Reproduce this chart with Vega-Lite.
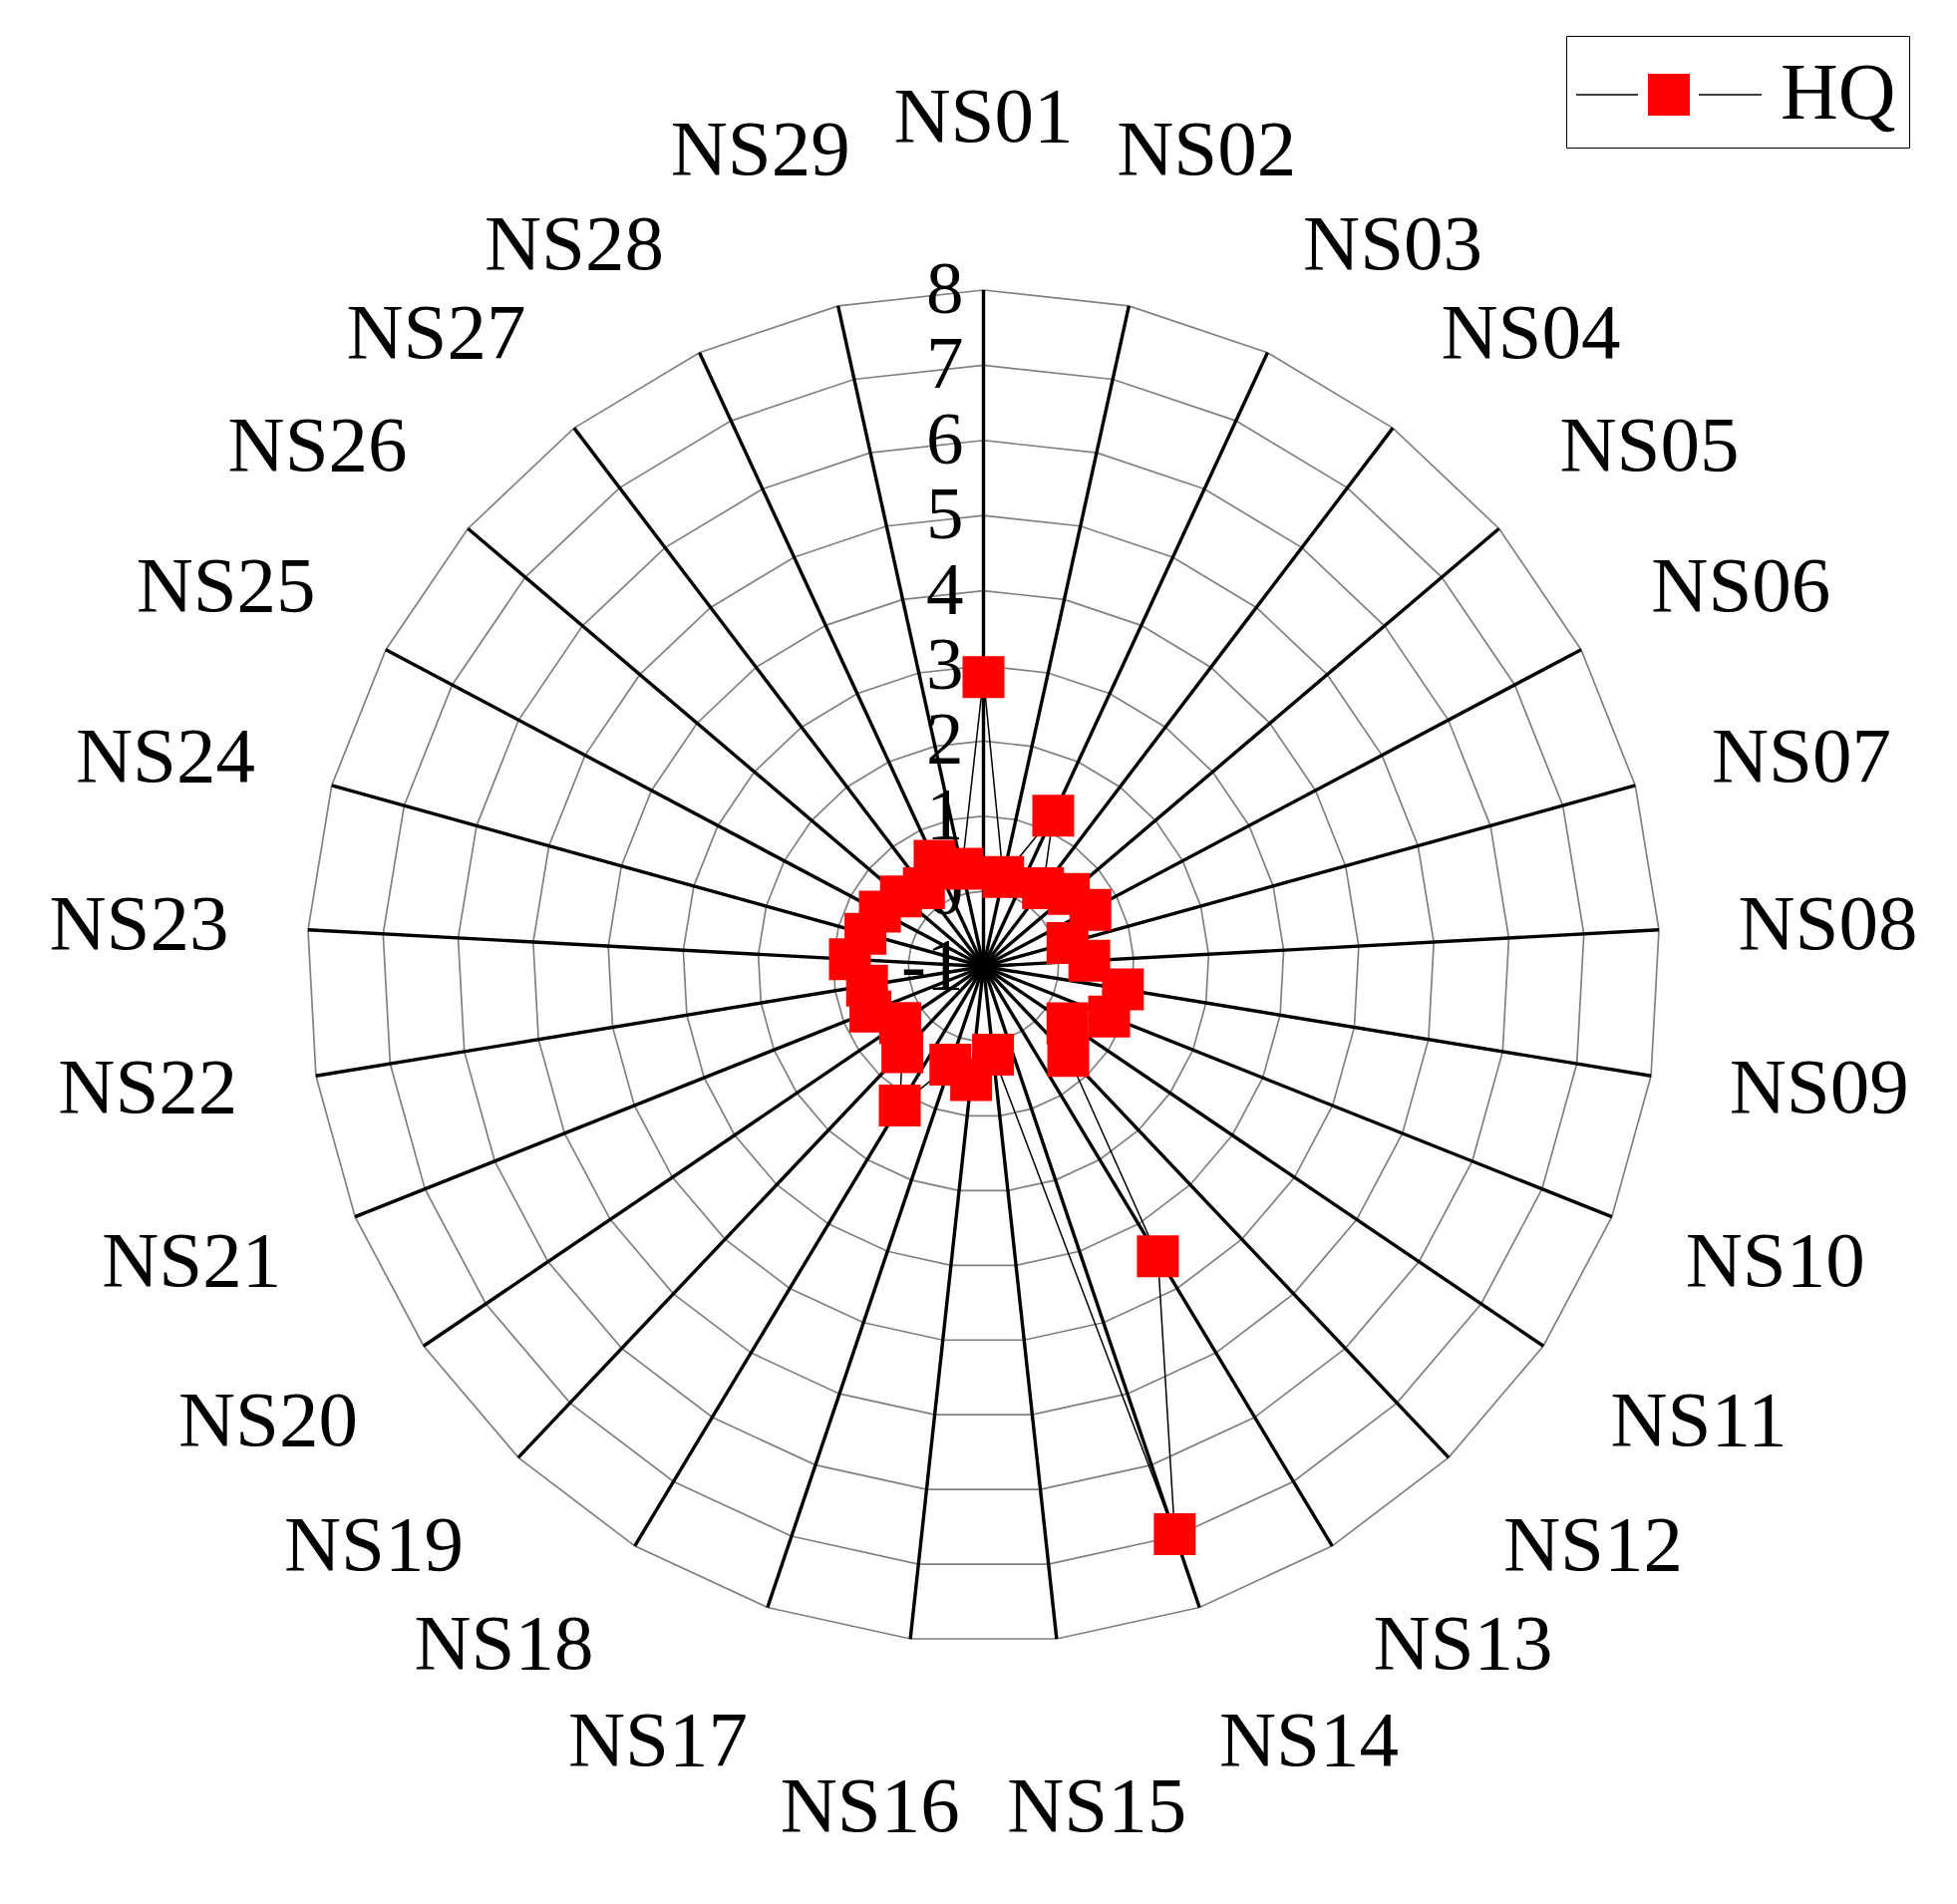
{
  "$schema": "https://vega.github.io/schema/vega-lite/v6.json",
  "width": 1357,
  "height": 1357,
  "autosize": {"type": "none"},
  "padding": {"left": 308, "top": 291, "right": 298, "bottom": 262},
  "background": "white",
  "config": {"view": {"stroke": null}},
  "datasets": {
    "hq": [
      {"site": "NS01", "i": 0, "hq": 2.85, "series": "HQ"},
      {"site": "NS02", "i": 1, "hq": 0.22, "series": "HQ"},
      {"site": "NS03", "i": 2, "hq": 1.21, "series": "HQ"},
      {"site": "NS04", "i": 3, "hq": 0.31, "series": "HQ"},
      {"site": "NS05", "i": 4, "hq": 0.49, "series": "HQ"},
      {"site": "NS06", "i": 5, "hq": 0.61, "series": "HQ"},
      {"site": "NS07", "i": 6, "hq": 0.16, "series": "HQ"},
      {"site": "NS08", "i": 7, "hq": 0.41, "series": "HQ"},
      {"site": "NS09", "i": 8, "hq": 0.88, "series": "HQ"},
      {"site": "NS10", "i": 9, "hq": 0.80, "series": "HQ"},
      {"site": "NS11", "i": 10, "hq": 0.35, "series": "HQ"},
      {"site": "NS12", "i": 11, "hq": 0.64, "series": "HQ"},
      {"site": "NS13", "i": 12, "hq": 3.50, "series": "HQ"},
      {"site": "NS14", "i": 13, "hq": 6.97, "series": "HQ"},
      {"site": "NS15", "i": 14, "hq": 0.18, "series": "HQ"},
      {"site": "NS16", "i": 15, "hq": 0.52, "series": "HQ"},
      {"site": "NS17", "i": 16, "hq": 0.38, "series": "HQ"},
      {"site": "NS18", "i": 17, "hq": 1.16, "series": "HQ"},
      {"site": "NS19", "i": 18, "hq": 0.57, "series": "HQ"},
      {"site": "NS20", "i": 19, "hq": 0.34, "series": "HQ"},
      {"site": "NS21", "i": 20, "hq": 0.62, "series": "HQ"},
      {"site": "NS22", "i": 21, "hq": 0.57, "series": "HQ"},
      {"site": "NS23", "i": 22, "hq": 0.78, "series": "HQ"},
      {"site": "NS24", "i": 23, "hq": 0.63, "series": "HQ"},
      {"site": "NS25", "i": 24, "hq": 0.56, "series": "HQ"},
      {"site": "NS26", "i": 25, "hq": 0.44, "series": "HQ"},
      {"site": "NS27", "i": 26, "hq": 0.31, "series": "HQ"},
      {"site": "NS28", "i": 27, "hq": 0.55, "series": "HQ"},
      {"site": "NS29", "i": 28, "hq": 0.33, "series": "HQ"}
    ],
    "web": [
      {"level": [0, 1, 2, 3, 4, 5, 6, 7, 8], "i": [0, 1, 2, 3, 4, 5, 6, 7, 8, 9, 10, 11, 12, 13, 14, 15, 16, 17, 18, 19, 20, 21, 22, 23, 24, 25, 26, 27, 28]}
    ],
    "ticks": [
      {"v": 8, "label": "8"},
      {"v": 7, "label": "7"},
      {"v": 6, "label": "6"},
      {"v": 5, "label": "5"},
      {"v": 4, "label": "4"},
      {"v": 3, "label": "3"},
      {"v": 2, "label": "2"},
      {"v": 1, "label": "1"},
      {"v": 0, "label": "0"},
      {"v": -1, "label": "-1"}
    ]
  },
  "layer": [
    {
      "data": {"name": "web"},
      "transform": [
        {"flatten": ["level"]},
        {"flatten": ["i"]},
        {"calculate": "datum.i * 2 * PI / 29", "as": "t"},
        {"calculate": "(datum.level + 1) * sin(datum.t)", "as": "gx"},
        {"calculate": "(datum.level + 1) * cos(datum.t)", "as": "gy"}
      ],
      "mark": {"type": "line", "interpolate": "linear-closed", "stroke": "#808080", "strokeWidth": 1.7},
      "encoding": {
        "x": {"field": "gx", "type": "quantitative", "scale": {"domain": [-9, 9], "nice": false, "zero": false}, "axis": null},
        "y": {"field": "gy", "type": "quantitative", "scale": {"domain": [-9, 9], "nice": false, "zero": false}, "axis": null},
        "detail": {"field": "level", "type": "nominal"},
        "order": {"field": "i", "type": "quantitative"}
      }
    },
    {
      "data": {"name": "hq"},
      "transform": [
        {"calculate": "datum.i * 2 * PI / 29", "as": "t"},
        {"calculate": "0", "as": "cx"},
        {"calculate": "9 * sin(datum.t)", "as": "sx"},
        {"calculate": "9 * cos(datum.t)", "as": "sy"}
      ],
      "mark": {"type": "rule", "stroke": "black", "strokeWidth": 3.4},
      "encoding": {
        "x": {"field": "cx", "type": "quantitative"},
        "y": {"field": "cx", "type": "quantitative"},
        "x2": {"field": "sx"},
        "y2": {"field": "sy"}
      }
    },
    {
      "data": {"name": "ticks"},
      "transform": [
        {"calculate": "0", "as": "cx"},
        {"calculate": "datum.v + 1", "as": "ty"}
      ],
      "mark": {"type": "text", "align": "right", "baseline": "middle", "dx": -20, "font": "Liberation Serif", "fontSize": 75, "color": "black"},
      "encoding": {
        "x": {"field": "cx", "type": "quantitative"},
        "y": {"field": "ty", "type": "quantitative"},
        "text": {"field": "label", "type": "nominal"}
      }
    },
    {
      "data": {"name": "hq"},
      "transform": [
        {"calculate": "datum.i * 2 * PI / 29", "as": "t"},
        {"calculate": "(datum.hq + 1) * sin(datum.t)", "as": "px"},
        {"calculate": "(datum.hq + 1) * cos(datum.t)", "as": "py"}
      ],
      "mark": {"type": "line", "interpolate": "linear-closed", "strokeWidth": 1.5},
      "encoding": {
        "x": {"field": "px", "type": "quantitative"},
        "y": {"field": "py", "type": "quantitative"},
        "order": {"field": "i", "type": "quantitative"},
        "stroke": {
          "field": "series",
          "type": "nominal",
          "scale": {"range": ["black"]},
          "legend": {
            "orient": "none",
            "legendX": 1263,
            "legendY": -255,
            "title": null,
            "padding": 13,
            "symbolType": "M-2.067,0H-0.689M0.667,0H2.067",
            "symbolSize": 8100,
            "symbolStrokeWidth": 1.5,
            "symbolOpacity": 1,
            "symbolOffset": 44,
            "labelOffset": 66,
            "labelFont": "Liberation Serif",
            "labelFontSize": 80,
            "labelOpacity": 0
          }
        }
      }
    },
    {
      "data": {"name": "hq"},
      "transform": [
        {"calculate": "datum.i * 2 * PI / 29", "as": "t"},
        {"calculate": "datum.series", "as": "grp"},
        {"calculate": "(datum.hq + 1) * sin(datum.t)", "as": "px"},
        {"calculate": "(datum.hq + 1) * cos(datum.t)", "as": "py"}
      ],
      "mark": {"type": "point", "shape": "square", "filled": true, "size": 1764, "opacity": 1, "strokeWidth": 0},
      "encoding": {
        "x": {"field": "px", "type": "quantitative"},
        "y": {"field": "py", "type": "quantitative"},
        "fill": {
          "field": "grp",
          "type": "nominal",
          "scale": {"range": ["#ff0000"]},
          "legend": {
            "orient": "none",
            "legendX": 1263,
            "legendY": -255,
            "title": null,
            "padding": 13,
            "symbolType": "M-0.4667,-0.4667H0.4667V0.4667H-0.4667Z",
            "symbolSize": 8100,
            "symbolStrokeWidth": 1.5,
            "symbolStrokeColor": "transparent",
            "symbolOpacity": 1,
            "symbolOffset": 44,
            "labelOffset": 66,
            "labelFont": "Liberation Serif",
            "labelFontSize": 80,
            "labelColor": "black",
            "strokeColor": "black"
          }
        }
      }
    },
    {
      "data": {"name": "hq"},
      "transform": [
        {"calculate": "datum.i * 2 * PI / 29", "as": "t"},
        {"calculate": "sin(datum.t)", "as": "s"},
        {"calculate": "cos(datum.t)", "as": "c"},
        {"calculate": "10.05 + 0.83 * max(0, (abs(datum.c) - 0.9) / 0.1)", "as": "rr"},
        {"calculate": "datum.rr * datum.s + 1.2 * (datum.s < 0 ? -1 : 1) * min(1, 2.6 * abs(datum.s))", "as": "lx"},
        {"calculate": "datum.rr * datum.c + 0.415 * (datum.c < 0 ? -1 : 1) * clamp((abs(datum.c) - 0.2) * 3, 0, 1)", "as": "ly"}
      ],
      "mark": {"type": "text", "align": "center", "baseline": "middle", "font": "Liberation Serif", "fontSize": 79, "color": "black"},
      "encoding": {
        "x": {"field": "lx", "type": "quantitative"},
        "y": {"field": "ly", "type": "quantitative"},
        "text": {"field": "site", "type": "nominal"}
      }
    }
  ]
}
